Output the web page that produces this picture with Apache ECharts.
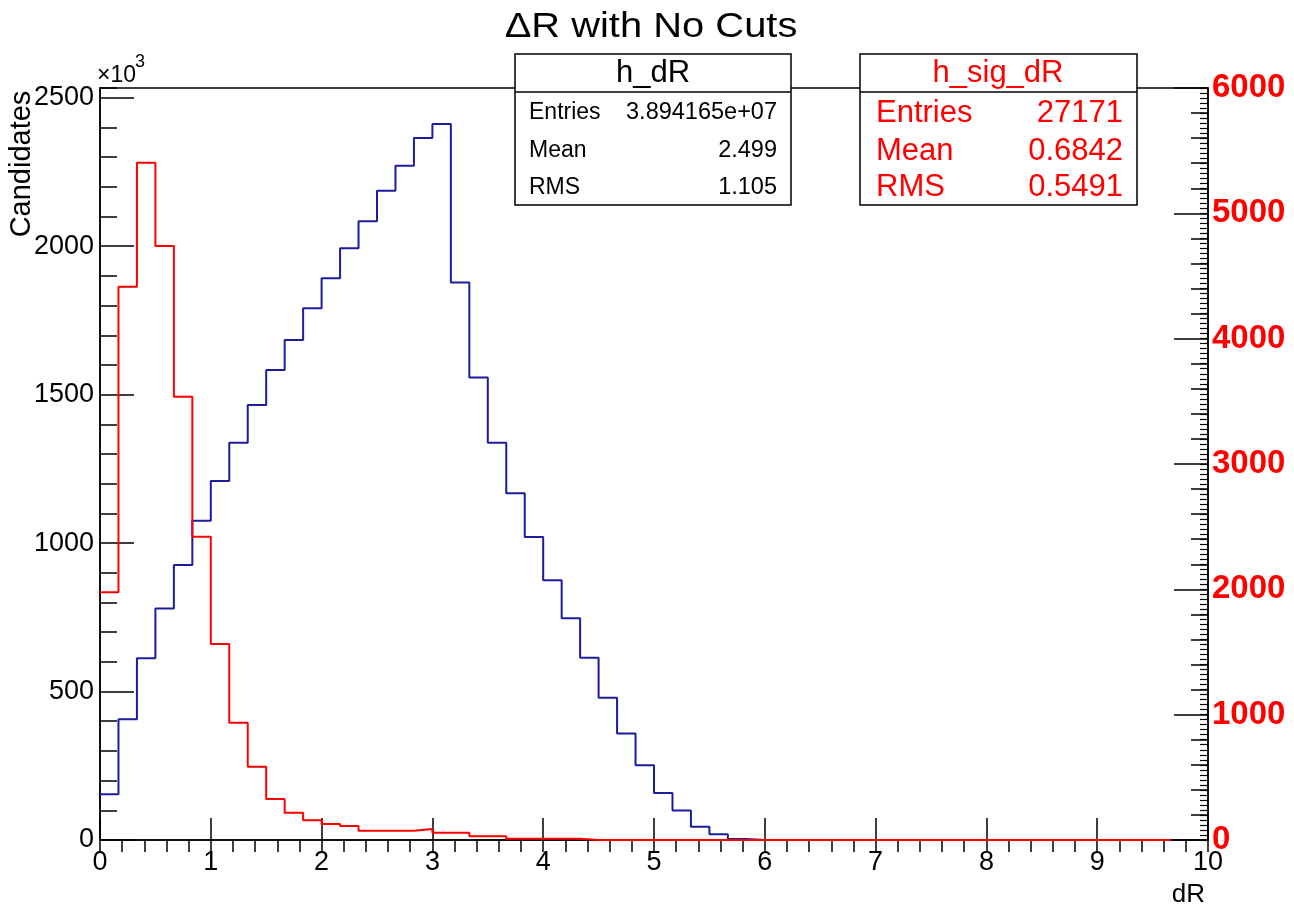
<!DOCTYPE html>
<html>
<head>
<meta charset="utf-8">
<script src="https://cdn.jsdelivr.net/npm/echarts@6/dist/echarts.min.js"></script>
<style>
  html, body { margin: 0; padding: 0; background: #fff; }
  #chart { width: 1294px; height: 907px; }
</style>
</head>
<body>
<div id="chart"></div>
<script>
// dR histogram, 1/6 wide bins from 0, drawn up to bin 58
const binWidth = 10 / 60
// h_dR, in units of 10^3 candidates (left axis)
const bgCounts = [154, 407, 612, 780, 926, 1075, 1209, 1338, 1465, 1583,
  1684, 1791, 1892, 1993, 2084, 2187, 2271, 2365, 2412, 1878,
  1558, 1338, 1168, 1021, 875, 747, 614, 479, 359, 252,
  158, 99, 45, 19, 3, 0, 0, 0, 0, 0,
  0, 0, 0, 0, 0, 0, 0, 0, 0, 0,
  0, 0, 0, 0, 0, 0, 0, 0]
// h_sig_dR (right axis)
const sigCounts = [1976, 4415, 5404, 4739, 3537, 2420, 1564, 936, 585, 327,
  218, 157, 128, 112, 74, 74, 74, 88, 58, 58,
  30, 30, 10, 10, 10, 10, 0, 0, 0, 0,
  0, 0, 0, 0, 0, 0, 0, 0, 0, 0,
  0, 0, 0, 0, 0, 0, 0, 0, 0, 0,
  0, 0, 0, 0, 0, 0, 0, 0]
const leftMax = 2533
const rightMax = 6000

const FONT = 'Liberation Sans, Arial, Helvetica, sans-serif'

// histogram outline: points at bin left edges, step at the end
function histPoints(counts) {
  const pts = counts.map((v, i) => [i * binWidth, v])
  pts.push([counts.length * binWidth, 0])
  return pts
}

const chart = echarts.init(document.getElementById('chart'))

const plain = (v) => String(v)
const tickAxis = (extra) => Object.assign({
  type: 'value', axisLine: { show: false }, axisLabel: { show: false },
  splitLine: { show: false },
}, extra)

// black text helper for the graphic layer
const txt = (text, x, y, size, align, color, extra) => Object.assign({
  type: 'text', z: 101,
  style: { text, x, y, fontSize: size, fontFamily: FONT, fill: color || '#000', textAlign: align, textVerticalAlign: 'middle' },
}, extra)

const option = {
  animation: false,
  backgroundColor: '#fff',
  grid: { left: 100, right: 86, top: 88, bottom: 67, show: true, borderColor: '#000', borderWidth: 1.5 },
  xAxis: [
    {
      type: 'value', min: 0, max: 10, interval: 1,
      axisLine: { lineStyle: { color: '#000', width: 1.5 } },
      axisTick: { inside: true, length: 22, lineStyle: { color: '#000', width: 1.5 } },
      axisLabel: { color: '#000', fontSize: 27, fontFamily: FONT, margin: 9, formatter: plain },
      splitLine: { show: false },
    },
    tickAxis({ min: 0, max: 10, interval: 0.2,
      axisTick: { inside: true, length: 12, lineStyle: { color: '#000', width: 1.5 } } }),
  ],
  yAxis: [
    {
      type: 'value', position: 'left', min: 0, max: leftMax, interval: 500,
      axisLine: { show: true, lineStyle: { color: '#000', width: 1.5 } },
      axisTick: { inside: true, length: 34, lineStyle: { color: '#000', width: 1.5 } },
      axisLabel: { color: '#000', fontSize: 27, fontFamily: FONT, margin: 6, showMaxLabel: false, formatter: plain },
      splitLine: { show: false },
    },
    tickAxis({ position: 'left', min: 0, max: leftMax, interval: 100,
      axisTick: { inside: true, length: 17, lineStyle: { color: '#000', width: 1.5 } } }),
    {
      type: 'value', position: 'right', min: 0, max: rightMax, interval: 1000,
      axisLine: { show: true, lineStyle: { color: '#000', width: 1.5 } },
      axisTick: { inside: true, length: 34, lineStyle: { color: '#000', width: 1.5 } },
      axisLabel: { color: '#ff0000', fontSize: 33, fontWeight: 'bold', fontFamily: FONT, margin: 4, formatter: plain },
      splitLine: { show: false },
    },
    tickAxis({ position: 'right', min: 0, max: rightMax, interval: 200,
      axisTick: { inside: true, length: 17, lineStyle: { color: '#000', width: 1.5 } } }),
    tickAxis({ position: 'right', min: 0, max: rightMax, interval: 40,
      axisTick: { inside: true, length: 8, lineStyle: { color: '#000', width: 1.2 } } }),
  ],
  series: [
    {
      name: 'h_dR', type: 'line', step: 'end', xAxisIndex: 0, yAxisIndex: 0,
      data: histPoints(bgCounts), showSymbol: false, z: 3,
      lineStyle: { color: '#1c1c9e', width: 2 },
    },
    {
      name: 'h_sig_dR', type: 'line', step: 'end', xAxisIndex: 0, yAxisIndex: 2,
      data: histPoints(sigCounts), showSymbol: false, z: 4,
      lineStyle: { color: '#ff0000', width: 2 },
    },
  ],
  graphic: [
    { type: 'text', z: 100, x: 651, y: 27, scaleX: 1.14,
      style: { text: 'ΔR with No Cuts', x: 0, y: 0, fontSize: 35, fontFamily: FONT, fill: '#000', textAlign: 'center', textVerticalAlign: 'middle' } },
    txt('×10', 97, 76, 23, 'left'),
    txt('3', 135, 62, 18, 'left'),
    { type: 'text', z: 100, x: 22, y: 164, rotation: Math.PI / 2,
      style: { text: 'Candidates', x: 0, y: 0, fontSize: 29, fontFamily: FONT, fill: '#000', textAlign: 'center', textVerticalAlign: 'middle' } },
    txt('dR', 1205, 895, 26, 'right'),

    // stats box h_dR
    { type: 'rect', z: 100, shape: { x: 515, y: 54, width: 276, height: 151 }, style: { fill: '#fff', stroke: '#000', lineWidth: 1.5 } },
    { type: 'line', z: 101, shape: { x1: 515, y1: 92, x2: 791, y2: 92 }, style: { stroke: '#000', lineWidth: 1.5 } },
    txt('h_dR', 653, 73, 31, 'center'),
    txt('Entries', 529, 113, 23, 'left'),
    txt('3.894165e+07', 777, 113, 23.5, 'right'),
    txt('Mean', 529, 151, 23, 'left'),
    txt('2.499', 777, 151, 23.5, 'right'),
    txt('RMS', 529, 188, 23, 'left'),
    txt('1.105', 777, 188, 23.5, 'right'),

    // stats box h_sig_dR
    { type: 'rect', z: 100, shape: { x: 860, y: 54, width: 277, height: 151 }, style: { fill: '#fff', stroke: '#000', lineWidth: 1.5 } },
    { type: 'line', z: 101, shape: { x1: 860, y1: 92, x2: 1137, y2: 92 }, style: { stroke: '#000', lineWidth: 1.5 } },
    txt('h_sig_dR', 998, 73, 31, 'center', '#ff0000'),
    txt('Entries', 876, 113, 31, 'left', '#ff0000'),
    txt('27171', 1123, 113, 31, 'right', '#ff0000'),
    txt('Mean', 876, 151, 31, 'left', '#ff0000'),
    txt('0.6842', 1123, 151, 31, 'right', '#ff0000'),
    txt('RMS', 876, 187, 31, 'left', '#ff0000'),
    txt('0.5491', 1123, 187, 31, 'right', '#ff0000'),
  ],
}

chart.setOption(option)
</script>
</body>
</html>
